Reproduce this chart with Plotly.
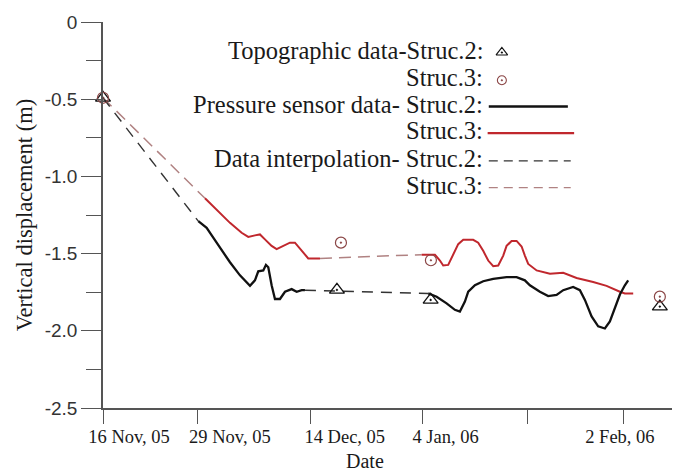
import plotly.graph_objects as go

# ---- axis ticks (x positions on the chart's time scale, days from 16 Nov 05) ----
x_tick_pos = [0, 14.1, 31.0, 47.9, 63.6, 78.0]
x_label_pos = [3.9, 19.0, 36.2, 51.3, 77.4]
x_labels = ["16 Nov, 05", "29 Nov, 05", "14 Dec, 05", "4 Jan, 06", "2 Feb, 06"]
y_ticks = [-2.5, -2.0, -1.5, -1.0, -0.5, 0]
y_tick_labels = ["-2.5", "-2.0", "-1.5", "-1.0", "-0.5", "0"]

# ---- topographic data ----
topo2_t = [0, 35.03, 49.06, 83.38]
topo2_v = [-0.491, -1.735, -1.800, -1.843]
topo3_t = [0, 35.63, 49.10, 83.38]
topo3_v = [-0.491, -1.429, -1.543, -1.779]

# ---- pressure sensor data, Struc.2 ----
sens2_t = [14.27, 15.52, 16.51, 17.51, 19.01, 20.51, 22.01, 22.75, 23.25, 24.0, 24.4, 24.75,
           25.25, 25.75, 26.5, 27.25, 28.25, 29.0, 29.75, 30.24, None,
           48.70, 49.96, 51.45, 52.69, 53.44, 54.19, 54.69, 55.69, 56.93, 58.43, 60.43, 61.93,
           63.17, 63.92, 65.42, 66.66, 67.92, 68.91, 70.40, 71.41, 72.16, 73.16, 74.15, 75.15,
           75.90, 76.65, 77.40, 78.14, 78.64]
sens2_v = [-1.290, -1.333, -1.397, -1.460, -1.556, -1.641, -1.709, -1.673, -1.615, -1.609, -1.573, -1.588,
           -1.705, -1.794, -1.794, -1.747, -1.730, -1.747, -1.737, -1.737, None,
           -1.758, -1.779, -1.822, -1.864, -1.875, -1.811, -1.747, -1.705, -1.679, -1.663, -1.652, -1.652,
           -1.673, -1.705, -1.747, -1.775, -1.768, -1.737, -1.716, -1.737, -1.800, -1.907, -1.971, -1.985,
           -1.939, -1.854, -1.765, -1.705, -1.673]

# ---- pressure sensor data, Struc.3 ----
sens3_t = [15.27, 16.27, 17.51, 19.01, 20.76, 21.75, 22.75, 23.50, 24.25, 25.25, 26.0, 26.99,
           27.99, 28.74, 29.75, 30.73, 32.49, None,
           47.71, 49.70, 50.45, 50.94, 51.69, 52.44, 53.19, 53.94, 55.43, 56.18, 56.93, 57.68,
           58.43, 59.18, 59.93, 60.43, 61.18, 61.93, 62.68, 63.17, 63.67, 64.93, 66.92, 68.91,
           70.91, 73.40, 75.40, 77.40, 78.14, 79.39]
sens3_v = [-1.142, -1.184, -1.237, -1.301, -1.365, -1.392, -1.382, -1.376, -1.408, -1.450, -1.471, -1.450,
           -1.429, -1.429, -1.482, -1.531, -1.531, None,
           -1.507, -1.507, -1.545, -1.577, -1.573, -1.503, -1.439, -1.411, -1.411, -1.429, -1.482, -1.545,
           -1.582, -1.577, -1.513, -1.450, -1.418, -1.418, -1.454, -1.513, -1.567, -1.609, -1.631, -1.624,
           -1.658, -1.684, -1.709, -1.747, -1.758, -1.758]

# ---- data interpolation ----
interp2_t = [0, 14.27, None, 30.24, 48.70]
interp2_v = [-0.491, -1.290, None, -1.737, -1.758]
interp3_t = [0, 15.27, None, 32.49, 47.71]
interp3_v = [-0.491, -1.142, None, -1.531, -1.507]

# ---- legend entries ----
legend_left = ["Topographic data-Struc.2:", "Struc.3:", "Pressure sensor data- Struc.2:",
               "Struc.3:", "Data interpolation- Struc.2:", "Struc.3:"]

BLACK = "#111111"
RED = "#c0272d"
INTERP2 = "#333333"
INTERP3 = "#b08282"
CIRC = "#8a4545"
AXIS = "#555555"
SERIF = "Liberation Serif, Times New Roman, serif"
SANS = "Liberation Sans, Arial, sans-serif"

fig = go.Figure()

fig.add_trace(go.Scatter(x=interp3_t, y=interp3_v, mode="lines",
                         line=dict(color=INTERP3, width=1.5, dash="12px,7px"), cliponaxis=False))
fig.add_trace(go.Scatter(x=interp2_t, y=interp2_v, mode="lines",
                         line=dict(color=INTERP2, width=1.4, dash="11px,8px"), cliponaxis=False))
fig.add_trace(go.Scatter(x=sens3_t, y=sens3_v, mode="lines",
                         line=dict(color=RED, width=2), cliponaxis=False))
fig.add_trace(go.Scatter(x=sens2_t, y=sens2_v, mode="lines",
                         line=dict(color=BLACK, width=2.3), cliponaxis=False))
fig.add_trace(go.Scatter(x=topo2_t, y=topo2_v, mode="markers", cliponaxis=False,
                         marker=dict(symbol="triangle-up-open-dot", size=13, color=BLACK,
                                     line=dict(width=1.3, color=BLACK))))
fig.add_trace(go.Scatter(x=topo3_t, y=topo3_v, mode="markers", cliponaxis=False,
                         marker=dict(symbol="circle-open-dot", size=11, color=CIRC,
                                     line=dict(width=1.2, color=CIRC))))

# legend samples on an overlay 0..1 axis pair
lx0, lx1 = 0.678, 0.822
ly = [0.921, 0.849, 0.781, 0.712, 0.640, 0.571]
fig.add_trace(go.Scatter(x=[0.701], y=[ly[0]], mode="markers", xaxis="x3", yaxis="y3",
                         marker=dict(symbol="triangle-up-open-dot", size=10, color=BLACK,
                                     line=dict(width=1.2, color=BLACK)), cliponaxis=False))
fig.add_trace(go.Scatter(x=[0.701], y=[ly[1]], mode="markers", xaxis="x3", yaxis="y3",
                         marker=dict(symbol="circle-open-dot", size=9, color=CIRC,
                                     line=dict(width=1.1, color=CIRC)), cliponaxis=False))
fig.add_trace(go.Scatter(x=[lx0, lx1 - 0.005], y=[ly[2]] * 2, mode="lines", xaxis="x3", yaxis="y3",
                         line=dict(color=BLACK, width=2.4), cliponaxis=False))
fig.add_trace(go.Scatter(x=[lx0 - 0.002, lx1 + 0.006], y=[ly[3]] * 2, mode="lines", xaxis="x3", yaxis="y3",
                         line=dict(color=RED, width=2.4), cliponaxis=False))
fig.add_trace(go.Scatter(x=[lx0, lx1], y=[ly[4]] * 2, mode="lines", xaxis="x3", yaxis="y3",
                         line=dict(color=INTERP2, width=1.3, dash="9px,6px"), cliponaxis=False))
fig.add_trace(go.Scatter(x=[lx0, lx1], y=[ly[5]] * 2, mode="lines", xaxis="x3", yaxis="y3",
                         line=dict(color=INTERP3, width=1.3, dash="9px,6px"), cliponaxis=False))

annotations = []
for text, yy in zip(legend_left, ly):
    annotations.append(dict(xref="paper", yref="paper", x=0.672, y=yy + 0.006, xanchor="right", yanchor="middle",
                            text=text, showarrow=False, font=dict(family=SERIF, size=24.5, color="#1a1a1a")))
annotations.append(dict(xref="paper", yref="paper", x=0.46, y=-0.138, xanchor="center", yanchor="middle",
                        text="Date", showarrow=False, font=dict(family=SERIF, size=20, color="#1a1a1a")))

fig.update_layout(
    width=686, height=471,
    margin=dict(l=103, r=14, t=16, b=63),
    paper_bgcolor="white", plot_bgcolor="white",
    showlegend=False,
    annotations=annotations,
    xaxis=dict(range=[0, 85.2], tickmode="array", tickvals=x_tick_pos, ticktext=[""] * len(x_tick_pos),
               ticks="outside", ticklen=14, tickwidth=1.4, tickcolor=AXIS,
               showline=True, linecolor=AXIS, linewidth=1.5, showgrid=False, zeroline=False),
    xaxis2=dict(range=[0, 85.2], overlaying="x", side="bottom", anchor="y",
                tickmode="array", tickvals=x_label_pos, ticktext=x_labels,
                ticks="outside", ticklen=12, tickcolor="rgba(0,0,0,0)",
                tickfont=dict(family=SERIF, size=18.5, color="#1a1a1a"),
                showline=False, showgrid=False, zeroline=False),
    yaxis=dict(range=[-2.5, 0], tickmode="array", tickvals=y_ticks, ticktext=y_tick_labels,
               ticks="outside", ticklen=20, tickwidth=1.4, tickcolor=AXIS,
               tickfont=dict(family=SANS, size=19, color="#333333"),
               minor=dict(ticks="outside", ticklen=15, tickwidth=1.4, tickcolor=AXIS, dtick=0.25, tick0=0),
               showline=True, linecolor=AXIS, linewidth=1.5, showgrid=False, zeroline=False,
               title=dict(text="Vertical displacement (m)", standoff=6,
                          font=dict(family=SERIF, size=22.5, color="#1a1a1a"))),
    xaxis3=dict(range=[0, 1], overlaying="x", anchor="y3", visible=False),
    yaxis3=dict(range=[0, 1], overlaying="y", anchor="x3", visible=False),
)

# dummy trace so xaxis2 renders its labels
fig.add_trace(go.Scatter(x=[None], y=[None], xaxis="x2", yaxis="y", showlegend=False))

fig.write_html("out.html")
